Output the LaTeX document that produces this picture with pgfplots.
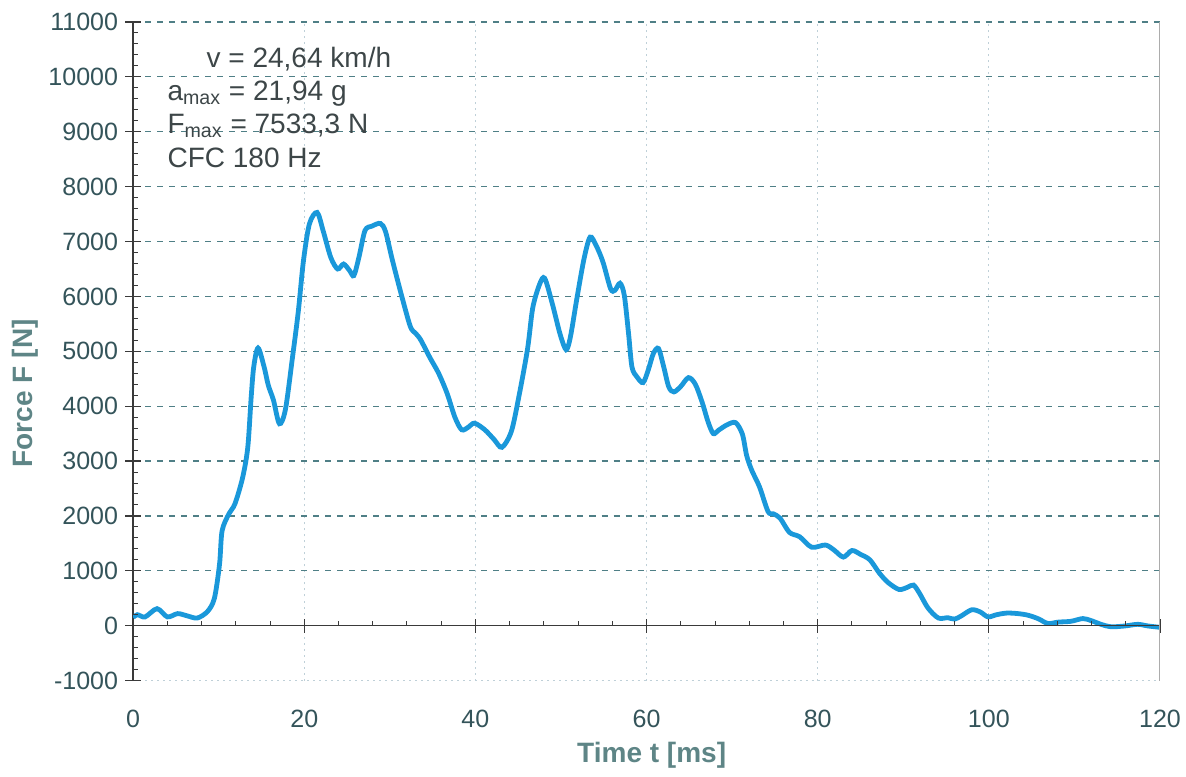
\documentclass[border=0pt]{standalone}
\usepackage{fontspec}
\setmainfont{Liberation Sans}
\usepackage{pgfplots}
\pgfplotsset{compat=1.18}
\definecolor{curvec}{HTML}{1A98DA}
\definecolor{tickc}{HTML}{34545A}
\definecolor{labc}{HTML}{5E8586}
\definecolor{annc}{HTML}{3D4648}
\definecolor{gridc}{HTML}{4F7F86}
\definecolor{vgridc}{HTML}{BFD0D8}
\definecolor{axisc}{HTML}{3A3A3A}
\pgfplotsset{common/.style={scale only axis, width=513pt, height=329pt,
  xmin=0, xmax=120, ymin=-1000, ymax=11000, scaled ticks=false}}
\begin{document}
\begin{tikzpicture}
\begin{axis}[name=ax, common,
  axis x line=bottom, axis y line=left,
  x axis line style={draw=vgridc, dash pattern=on 1pt off 2pt, line width=0.5pt, -},
  y axis line style={draw=axisc, line width=0.7pt, -},
  xtick={0,20,...,120},
  ytick={0,1000,...,11000},
  extra y ticks={-1000}, extra y tick style={grid=none},
  /pgf/number format/1000 sep={},
  /pgf/number format/assume math mode=true,
  xmajorgrids, ymajorgrids,
  major x grid style={draw=vgridc, dash pattern=on 1pt off 2pt, line width=0.5pt},
  major y grid style={draw=gridc, dash pattern=on 3pt off 3pt, line width=0.6pt},
  x tick style={draw=none},
  y tick style={draw=axisc, line width=0.6pt},
  tick align=center, major tick length=8pt,
  ticklabel style={font=\fontsize{12.5}{15}\selectfont, text=tickc},
  xticklabel style={yshift=-7pt},
  xlabel={Time t [ms]}, ylabel={Force F [N]},
  every axis x label/.style={at={([yshift=-37.5pt]rel axis cs:0.505,0)}, anchor=center, font=\bfseries\fontsize{14}{16}\selectfont, text=labc},
  every axis y label/.style={at={([xshift=-54pt,yshift=-21pt]rel axis cs:0,0.5)}, anchor=center, rotate=90, font=\bfseries\fontsize{14}{16}\selectfont, text=labc},
]
\addplot[curvec, line width=2.4pt, smooth, tension=0.5] coordinates {
(0,150) (0.5,200) (1.4,160) (2.8,310) (4.0,160) (5.2,220) (6.3,180) (7.5,140)
(8.7,260) (9.5,500) (10.1,1120) (10.4,1730) (11.2,2040) (11.9,2220) (12.8,2700)
(13.4,3250) (13.8,4170) (14.1,4720) (14.6,5060) (15.3,4720) (15.8,4380) (16.4,4110)
(17.1,3680) (17.8,3940) (18.6,4860) (19.3,5720) (19.9,6640) (20.6,7320) (21.5,7530)
(22.2,7200) (23.1,6710) (23.9,6500) (24.6,6590) (25.3,6470) (25.8,6380) (26.4,6720)
(27.1,7200) (27.9,7280) (28.9,7330) (29.5,7180) (30.3,6660) (31.4,6000) (32.4,5450)
(33.0,5330) (33.6,5210) (34.7,4880) (35.7,4600) (36.7,4230) (37.6,3800) (38.4,3570)
(39.2,3620) (39.9,3690) (41.1,3570) (42.2,3390) (43.1,3250) (44.2,3540) (45.1,4190)
(46.1,5050) (46.7,5790) (47.5,6220) (48.1,6330) (49.0,5860) (49.9,5310) (50.6,5030)
(51.1,5260) (51.9,6000) (52.7,6690) (53.4,7080) (54.1,6930) (54.9,6630) (55.8,6140)
(56.3,6110) (56.9,6240) (57.4,6020) (57.9,5320) (58.3,4710) (58.9,4530) (59.6,4430)
(60.2,4660) (60.8,4960) (61.4,5050) (62.0,4720) (62.6,4350) (63.2,4260) (64.0,4360)
(64.9,4520) (65.7,4400) (66.5,4070) (67.2,3710) (67.8,3500) (68.4,3560) (69.4,3660)
(70.4,3700) (71.2,3490) (71.7,3100) (72.3,2830) (73.2,2530) (74.2,2080) (74.8,2040)
(75.6,1960) (76.7,1700) (77.9,1620) (79.3,1430) (80.9,1470) (81.9,1380) (83.0,1250)
(84.0,1370) (85.0,1300) (86.1,1200) (87.2,960) (88.2,790) (89.5,660) (90.5,700)
(91.2,740) (91.9,590) (92.9,320) (94.1,140) (95.2,145) (96.0,120) (96.8,180)
(98.0,290) (99.0,250) (99.9,160) (100.9,200) (102.1,230) (103.4,220) (104.6,190)
(105.8,125) (106.9,40) (108.1,65) (109.6,80) (111.0,130) (112.0,90) (113.2,20)
(114.3,-20) (115.9,-5) (117.4,25) (118.6,-5) (120,-30)
};
\begin{scope}[font=\fontsize{14}{16}\selectfont, text=annc]
\node[anchor=base west, inner sep=0pt, xshift=36.5pt, yshift=-22.5pt] at (rel axis cs:0,1) {v = 24,64 km/h};
\node[anchor=base west, inner sep=0pt, xshift=17pt, yshift=-39pt] at (rel axis cs:0,1) {a\textsubscript{max} = 21,94 g};
\node[anchor=base west, inner sep=0pt, xshift=17pt, yshift=-55.5pt] at (rel axis cs:0,1) {F\textsubscript{max} = 7533,3 N};
\node[anchor=base west, inner sep=0pt, xshift=17pt, yshift=-72.5pt] at (rel axis cs:0,1) {CFC 180 Hz};
\end{scope}
\end{axis}
% x axis line at F = 0 with crossing major ticks
\begin{axis}[common,
  axis x line=middle, axis y line=none,
  x axis line style={draw=axisc, line width=0.7pt, -},
  xtick={0,20,...,120}, xticklabels={},
  tick align=center, major tick length=7pt,
  x tick style={draw=axisc, line width=0.6pt},
]
\end{axis}
% small x ticks pointing up from F = 0 (axis box whose bottom edge is F = 0)
\begin{axis}[scale only axis, width=513pt, height=301.583pt, at={(0pt,27.417pt)},
  xmin=0, xmax=120, ymin=0, ymax=11000, scaled ticks=false,
  axis x line=bottom, axis y line=none,
  axis line style={draw=none},
  xtick={4,8,12,16,24,28,32,36,44,48,52,56,64,68,72,76,84,88,92,96,104,108,112,116},
  xticklabels={},
  tick align=inside, major tick length=2.5pt,
  tick style={draw=axisc, line width=0.5pt},
]
\end{axis}
% small y ticks pointing right
\begin{axis}[common,
  axis x line=none, axis y line=left,
  axis line style={draw=none},
  ytick={-800,-600,...,-200,200,400,...,800,1200,1400,...,1800,2200,2400,...,2800,3200,3400,...,3800,4200,4400,...,4800,5200,5400,...,5800,6200,6400,...,6800,7200,7400,...,7800,8200,8400,...,8800,9200,9400,...,9800,10200,10400,...,10800},
  yticklabels={},
  tick align=inside, major tick length=2.5pt,
  tick style={draw=axisc, line width=0.5pt},
]
\end{axis}
% thin right border
\begin{axis}[common,
  axis x line=none, axis y line=right,
  y axis line style={draw=gray!65, line width=0.5pt, -},
  ytick=\empty, yticklabels={},
]
\end{axis}
\pgfresetboundingbox
\path[use as bounding box] ([xshift=-66.5pt,yshift=-48pt]ax.south west) rectangle ([xshift=13pt,yshift=11pt]ax.north east);
\end{tikzpicture}
\end{document}
